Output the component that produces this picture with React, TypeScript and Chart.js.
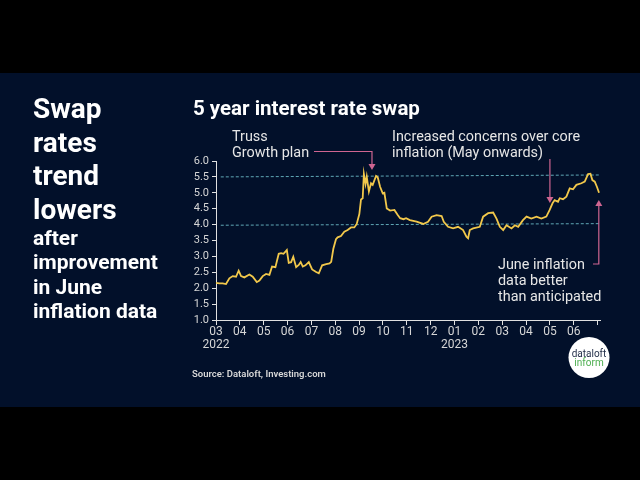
import React, { useEffect, useRef } from "react";
import { Chart, registerables } from "chart.js";

Chart.register(...registerables);

// ---- data ----
const monthTickLabels = ["03", "04", "05", "06", "07", "08", "09", "10", "11", "12", "01", "02", "03", "04", "05", "06", ""];
const yearTickLabels = ["2022", "", "", "", "", "", "", "", "", "", "2023", "", "", "", "", "", ""];
const yTicks = [1.0, 1.5, 2.0, 2.5, 3.0, 3.5, 4.0, 4.5, 5.0, 5.5, 6.0];

// months since 1 Mar 2022
const months = [
  0.0, 0.14, 0.28, 0.42, 0.56, 0.7, 0.84, 0.95, 1.05, 1.19, 1.4, 1.54, 1.71, 1.82, 1.96, 2.1, 2.24, 2.35, 2.49, 2.63,
  2.73, 2.83, 2.97, 3.05, 3.15, 3.24, 3.36, 3.47, 3.55, 3.64, 3.75, 3.89, 4.03, 4.2, 4.31, 4.45, 4.62, 4.76, 4.83, 4.92,
  5.03, 5.1, 5.24, 5.38, 5.52, 5.66, 5.8, 5.9, 6.01, 6.08, 6.15, 6.2, 6.27, 6.32, 6.41, 6.5, 6.57, 6.71, 6.78, 6.88,
  6.99, 7.06, 7.16, 7.3, 7.48, 7.62, 7.72, 7.86, 7.97, 8.13, 8.41, 8.69, 8.89, 9.04, 9.25, 9.46, 9.55, 9.73, 9.94, 10.15,
  10.36, 10.5, 10.57, 10.64, 10.78, 11.06, 11.2, 11.41, 11.62, 11.76, 11.9, 12.04, 12.18, 12.39, 12.53, 12.67, 12.87, 13.02, 13.22, 13.44,
  13.64, 13.85, 13.99, 14.11, 14.2, 14.34, 14.41, 14.55, 14.69, 14.83, 14.97, 15.11, 15.32, 15.46, 15.6, 15.7, 15.78, 15.88, 15.97, 16.06,
];
const rates = [
  2.17, 2.15, 2.15, 2.13, 2.31, 2.38, 2.36, 2.55, 2.38, 2.34, 2.43, 2.36, 2.19, 2.24, 2.38, 2.45, 2.42, 2.68, 2.66, 3.08,
  3.1, 3.08, 3.2, 2.8, 2.82, 2.99, 2.66, 2.73, 2.82, 2.68, 2.72, 2.82, 2.59, 2.51, 2.47, 2.72, 2.76, 2.78, 2.83, 3.24,
  3.54, 3.6, 3.64, 3.78, 3.83, 3.91, 3.91, 4.02, 4.33, 4.79, 4.83, 5.59, 5.28, 5.51, 5.04, 5.3, 5.25, 5.53, 5.49, 5.19,
  4.98, 5.0, 4.51, 4.44, 4.46, 4.3, 4.2, 4.17, 4.2, 4.14, 4.09, 4.02, 4.09, 4.25, 4.3, 4.27, 4.09, 3.93, 3.88, 3.93,
  3.83, 3.62, 3.57, 3.83, 3.88, 3.93, 4.25, 4.36, 4.38, 4.19, 3.93, 3.83, 3.98, 3.88, 3.98, 3.93, 4.14, 4.25, 4.19, 4.25,
  4.19, 4.25, 4.46, 4.67, 4.77, 4.72, 4.83, 4.8, 4.88, 5.14, 5.11, 5.25, 5.3, 5.35, 5.59, 5.6, 5.4, 5.35, 5.19, 5.0,
];

const refLineMonths = [0.2, 16.05];
const upperRefValues = [5.5, 5.56];
const lowerRefValues = [3.98, 4.03];

// annotation arrow tips (data coordinates)
const trussTip = { x: 6.54, y: 5.72 };
const concernsTip = { x: 14.0, y: 4.68 };
const juneTip = { x: 16.05, y: 4.77 };

const NAVY = "#02102a";
const FONT = "Roboto, 'Noto Sans', sans-serif";
const PINK = "#cf6591";

function arrowHead(ctx: CanvasRenderingContext2D, x: number, y: number, dir: "down" | "up") {
  const h = 6, w = 3.5;
  ctx.beginPath();
  if (dir === "down") {
    ctx.moveTo(x, y);
    ctx.lineTo(x - w, y - h);
    ctx.lineTo(x + w, y - h);
  } else {
    ctx.moveTo(x, y);
    ctx.lineTo(x - w, y + h);
    ctx.lineTo(x + w, y + h);
  }
  ctx.closePath();
  ctx.fill();
}

const decor = {
  id: "decor",
  beforeDraw(chart: any) {
    const ctx: CanvasRenderingContext2D = chart.ctx;
    ctx.save();
    ctx.fillStyle = "#000";
    ctx.fillRect(0, 0, 640, 480);
    ctx.fillStyle = NAVY;
    ctx.fillRect(0, 73, 640, 334);
    ctx.restore();
  },
  afterDraw(chart: any) {
    const ctx: CanvasRenderingContext2D = chart.ctx;
    const xs = chart.scales.x;
    const ys = chart.scales.y;
    ctx.save();
    ctx.textBaseline = "alphabetic";
    ctx.textAlign = "left";

    // left headline
    ctx.fillStyle = "#ffffff";
    ctx.font = `bold 28px ${FONT}`;
    ["Swap", "rates", "trend", "lowers"].forEach((t, i) => ctx.fillText(t, 33, 118 + i * 33.5));
    ctx.font = `bold 21px ${FONT}`;
    ["after", "improvement", "in June", "inflation data"].forEach((t, i) => ctx.fillText(t, 33, 245 + i * 24.3));

    // title
    ctx.font = `bold 20.5px ${FONT}`;
    ctx.fillText("5 year interest rate swap", 193, 115);

    // annotations text
    ctx.fillStyle = "#e6e6e6";
    ctx.font = `14.4px ${FONT}`;
    ctx.fillText("Truss", 232, 141);
    ctx.fillText("Growth plan", 232, 157);
    ctx.fillText("Increased concerns over core", 392, 141);
    ctx.fillText("inflation (May onwards)", 392, 157);
    ctx.fillText("June inflation", 498, 269);
    ctx.fillText("data better", 498, 285);
    ctx.fillText("than anticipated", 498, 301);

    // arrows
    ctx.strokeStyle = PINK;
    ctx.fillStyle = PINK;
    ctx.lineWidth = 1.2;
    const tx = xs.getPixelForValue(trussTip.x);
    const ty = ys.getPixelForValue(trussTip.y);
    ctx.beginPath();
    ctx.moveTo(314, 151.5);
    ctx.lineTo(tx, 151.5);
    ctx.lineTo(tx, ty - 5);
    ctx.stroke();
    arrowHead(ctx, tx, ty, "down");

    const cx = xs.getPixelForValue(concernsTip.x);
    const cy = ys.getPixelForValue(concernsTip.y);
    ctx.beginPath();
    ctx.moveTo(cx, 159);
    ctx.lineTo(cx, cy - 5);
    ctx.stroke();
    arrowHead(ctx, cx, cy, "down");

    const jx = xs.getPixelForValue(juneTip.x);
    const jy = ys.getPixelForValue(juneTip.y);
    ctx.beginPath();
    ctx.moveTo(593, 264);
    ctx.lineTo(jx, 264);
    ctx.lineTo(jx, jy + 5);
    ctx.stroke();
    arrowHead(ctx, jx, jy, "up");

    // source
    ctx.fillStyle = "#d8d8d8";
    ctx.font = `600 9.5px ${FONT}`;
    ctx.fillText("Source: Dataloft, Investing.com", 192, 377);

    // logo
    ctx.fillStyle = "#ffffff";
    ctx.beginPath();
    ctx.arc(589, 357.5, 20.5, 0, Math.PI * 2);
    ctx.fill();
    ctx.textAlign = "center";
    ctx.font = `10px ${FONT}`;
    ctx.fillStyle = "#24304a";
    ctx.fillText("dataloft", 589, 356.5);
    ctx.fillStyle = "#4cae4f";
    ctx.fillText("inform", 589, 366);
    ctx.restore();
  },
};

export default function App() {
  const ref = useRef<HTMLCanvasElement | null>(null);
  useEffect(() => {
    if (!ref.current) return;
    const chart = new Chart(ref.current, {
      type: "line",
      data: {
        datasets: [
          {
            data: months.map((m, i) => ({ x: m, y: rates[i] })),
            borderColor: "#f2c84b",
            borderWidth: 1.8,
            pointRadius: 0,
            tension: 0,
            order: 0,
          },
          {
            data: refLineMonths.map((m, i) => ({ x: m, y: upperRefValues[i] })),
            borderColor: "#5fa7b5",
            borderWidth: 1,
            borderDash: [3, 2],
            pointRadius: 0,
            order: 1,
          },
          {
            data: refLineMonths.map((m, i) => ({ x: m, y: lowerRefValues[i] })),
            borderColor: "#5fa7b5",
            borderWidth: 1,
            borderDash: [3, 2],
            pointRadius: 0,
            order: 1,
          },
        ],
      },
      options: {
        animation: false,
        responsive: false,
        events: [],
        layout: { padding: { left: 186, top: 161, right: 40, bottom: 120 } },
        plugins: { legend: { display: false }, tooltip: { enabled: false } },
        scales: {
          x: {
            type: "linear",
            min: 0,
            max: 16.1,
            afterBuildTicks: (s: any) => {
              s.ticks = monthTickLabels.map((_, i) => ({ value: i }));
            },
            afterFit: (s: any) => {
              s.height = 40;
            },
            grid: { display: true, drawOnChartArea: false, tickLength: 5, color: "#e0e0e0" },
            border: { display: true, color: "#e0e0e0", width: 1 },
            ticks: {
              autoSkip: false,
              maxRotation: 0,
              padding: 1,
              color: "#d6d6d6",
              font: { family: FONT, size: 12, lineHeight: 1.05 },
              callback: (v: any) => {
                const i = Math.round(Number(v));
                const y = yearTickLabels[i];
                return y ? [monthTickLabels[i], y] : monthTickLabels[i];
              },
            },
          },
          y: {
            min: 1,
            max: 6,
            afterBuildTicks: (s: any) => {
              s.ticks = yTicks.map((v) => ({ value: v }));
            },
            afterFit: (s: any) => {
              s.width = 30;
            },
            grid: { display: true, drawOnChartArea: false, tickLength: 4, color: "#e0e0e0" },
            border: { display: true, color: "#e0e0e0", width: 1 },
            ticks: {
              autoSkip: false,
              padding: 3,
              color: "#d6d6d6",
              font: { family: FONT, size: 11 },
              callback: (v: any) => Number(v).toFixed(1),
            },
          },
        },
      },
      plugins: [decor],
    } as any);
    return () => chart.destroy();
  }, []);

  return (
    <div style={{ position: "fixed", left: 0, top: 0, width: 640, height: 480, background: "#000" }}>
      <canvas ref={ref} width={640} height={480} style={{ width: 640, height: 480, display: "block" }} />
    </div>
  );
}
